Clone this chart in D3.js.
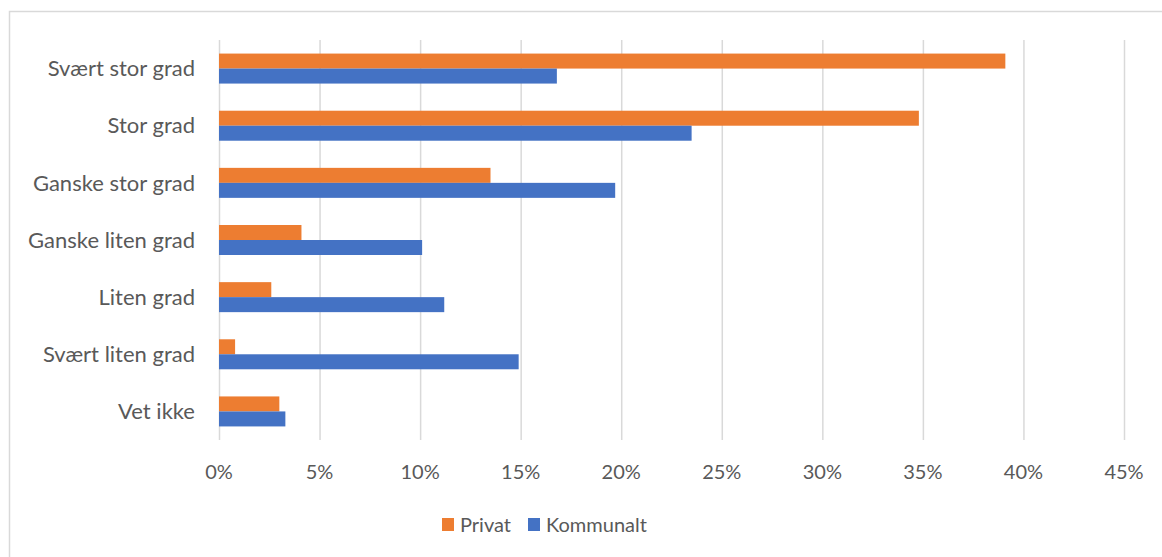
<!DOCTYPE html>
<html>
<head>
<meta charset="utf-8">
<script src="https://cdn.jsdelivr.net/npm/d3@7"></script>
<style>
  body { margin: 0; background: #fff; }
  text { font-family: Lato, "Open Sans", sans-serif; fill: #595959; }
</style>
</head>
<body>
<svg id="chart"></svg>
<script>
const categories = ['Svært stor grad', 'Stor grad', 'Ganske stor grad', 'Ganske liten grad', 'Liten grad', 'Svært liten grad', 'Vet ikke']
const seriesNames = ['Privat', 'Kommunalt']
const privat = [39.1, 34.8, 13.5, 4.1, 2.6, 0.8, 3.0]
const kommunalt = [16.8, 23.5, 19.7, 10.1, 11.2, 14.9, 3.3]
const xTicks = [0, 5, 10, 15, 20, 25, 30, 35, 40, 45]
const colors = ['#ED7D31', '#4472C4']

const W = 1162, H = 557
const margin = {top: 40, right: 38, bottom: 117, left: 219}
const width = W - margin.left - margin.right
const height = H - margin.top - margin.bottom

const svg = d3.select('#chart').attr('width', W).attr('height', H)

// chart border (clipped on the right and bottom in the original)
svg.append('path')
    .attr('d', `M9.5,${H} L9.5,11.5 L${W},11.5`)
    .attr('fill', 'none')
    .attr('stroke', '#d9d9d9')
    .attr('stroke-width', 1.5)

const g = svg.append('g').attr('transform', `translate(${margin.left},${margin.top})`)

const x = d3.scaleLinear().domain([0, 45]).range([0, width])
const y = d3.scaleBand().domain(categories).range([0, height])
    .paddingInner(0.475).paddingOuter(0.2375)
const ySub = d3.scaleBand().domain(seriesNames).range([0, y.bandwidth()])

// gridlines
g.append('g')
    .selectAll('line')
    .data(xTicks)
    .join('line')
        .attr('x1', d => x(d) + 0.5)
        .attr('x2', d => x(d) + 0.5)
        .attr('y1', 0)
        .attr('y2', height)
        .attr('stroke', '#d9d9d9')
        .attr('stroke-width', 1.5)

// tick labels
g.append('g')
    .selectAll('text')
    .data(xTicks)
    .join('text')
        .attr('x', d => x(d))
        .attr('y', height + 32)
        .attr('dy', '0.35em')
        .attr('text-anchor', 'middle')
        .style('font-size', '20px')
        .text(d => d + '%')

const rows = categories.map((c, i) => ({cat: c, values: [privat[i], kommunalt[i]]}))

const groups = g.append('g')
    .selectAll('g')
    .data(rows)
    .join('g')
        .attr('transform', d => `translate(0,${y(d.cat)})`)

groups.selectAll('rect')
    .data(d => d.values.map((v, j) => ({name: seriesNames[j], value: v})))
    .join('rect')
        .attr('x', 0)
        .attr('y', d => ySub(d.name))
        .attr('width', d => x(d.value))
        .attr('height', ySub.bandwidth())
        .attr('fill', (d, j) => colors[j])

// category labels
g.append('g')
    .selectAll('text')
    .data(categories)
    .join('text')
        .attr('x', -24)
        .attr('y', d => y(d) + y.bandwidth() / 2)
        .attr('dy', '0.35em')
        .attr('text-anchor', 'end')
        .style('font-size', '22px')
        .text(d => d)

// legend
const legend = svg.append('g').attr('transform', 'translate(442,518)')
const legendX = [0, 86]
const item = legend.selectAll('g')
    .data(seriesNames)
    .join('g')
        .attr('transform', (d, i) => `translate(${legendX[i]},0)`)
item.append('rect')
    .attr('width', 12)
    .attr('height', 13)
    .attr('fill', (d, i) => colors[i])
item.append('text')
    .attr('x', 18)
    .attr('y', 6.5)
    .attr('dy', '0.35em')
    .style('font-size', '20px')
    .text(d => d)
</script>
</body>
</html>
